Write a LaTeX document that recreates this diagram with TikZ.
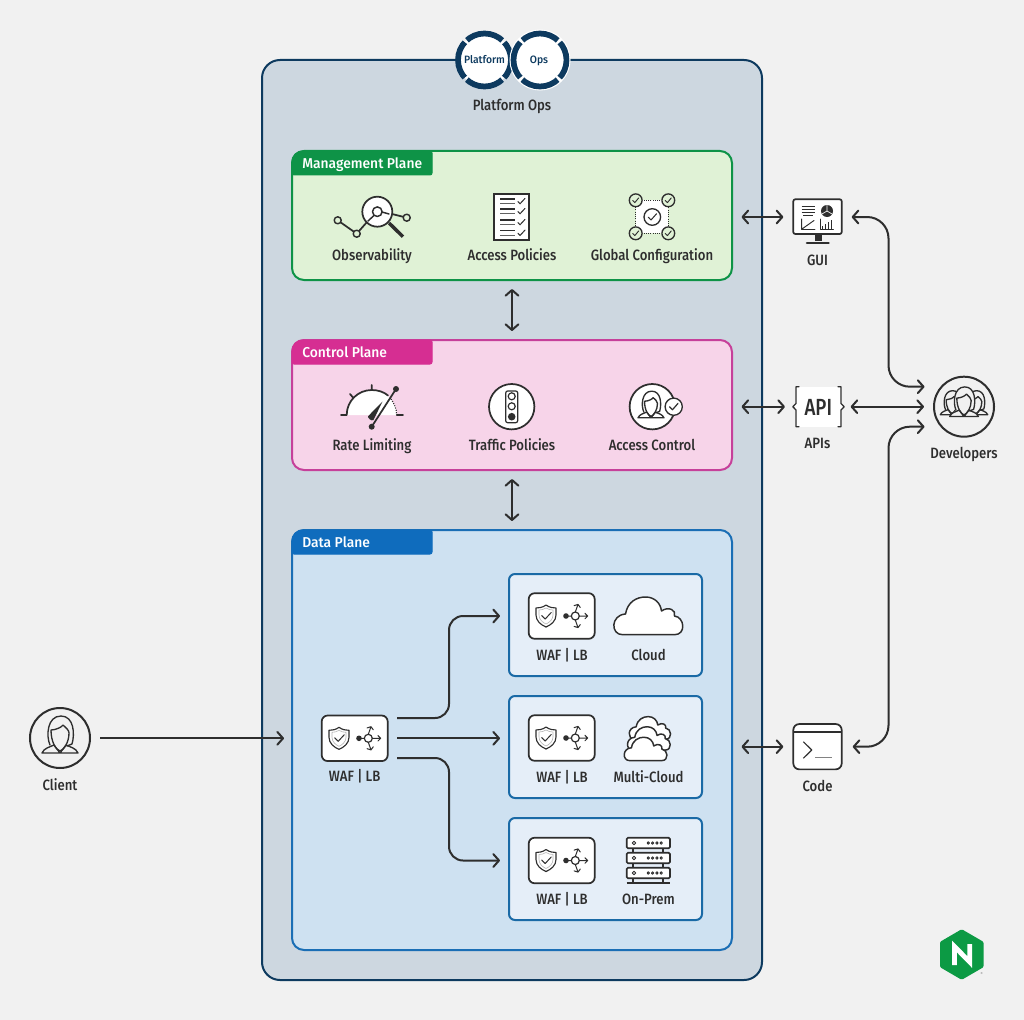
\documentclass[tikz,border=0pt]{standalone}
\usepackage{fontspec}
\setmainfont{Fira Sans}[FakeStretch=0.88,BoldFont={Fira Sans Medium},BoldFeatures={FakeStretch=0.88}]
\newfontfamily\tabf{Fira Sans Medium}[FakeStretch=0.97]
\newfontfamily\apif{Fira Sans Medium}[FakeStretch=0.8]
\usetikzlibrary{arrows.meta}
\definecolor{bgc}{HTML}{F1F1F1}
\definecolor{navy}{HTML}{0D3A5F}
\definecolor{outerf}{HTML}{CDD7E0}
\definecolor{ink}{HTML}{2E2E2E}
\definecolor{mgf}{HTML}{E0F2D6}
\definecolor{mgs}{HTML}{0E9347}
\definecolor{ctf}{HTML}{F7D4E9}
\definecolor{cts}{HTML}{C6409A}
\definecolor{ctt}{HTML}{D62E92}
\definecolor{daf}{HTML}{CEE1F1}
\definecolor{das}{HTML}{1A6EB5}
\definecolor{dat}{HTML}{0F6CBD}
\definecolor{subf}{HTML}{E5EEF8}
\definecolor{subs}{HTML}{1A6AA6}
\definecolor{nginx}{HTML}{0C9A44}
\tikzset{
  panel/.style={draw,rectangle,rounded corners=9pt,line width=1.5pt,minimum width=330pt,inner sep=0pt},
  subpanel/.style={draw=subs,fill=subf,rectangle,rounded corners=4.5pt,line width=1.5pt,minimum width=144.75pt,minimum height=76.5pt,inner sep=0pt},
  holder/.style={rectangle,inner sep=0pt,outer sep=0pt},
  lbl/.style={text=ink,font=\fontsize{11.2}{12}\selectfont\bfseries,inner sep=0pt,text height=10pt,text depth=1.6pt},
  tabl/.style={text=white,font=\fontsize{10.7}{12}\selectfont\tabf,inner sep=0pt,anchor=west,text height=9.8pt,text depth=1.6pt},
  badgetxt/.style={text=navy,font=\fontsize{8}{10}\selectfont\tabf,inner sep=0pt,text height=7pt,text depth=1.5pt},
  conn/.style={draw=ink,line width=1.5pt},
  bi/.style={conn,{Straight Barb[length=4.2pt,width=9.5pt,round]}-{Straight Barb[length=4.2pt,width=9.5pt,round]}},
  uni/.style={conn,-{Straight Barb[length=4.2pt,width=9.5pt,round]}},
  ico/.style={draw=ink,line width=1.3pt,line join=round,line cap=round},
  thin ico/.style={draw=ink,line width=.75pt,line join=round,line cap=round},
  pics/person/.style={code={
    \fill[#1] (-10,7) .. controls (-14,-2) and (-13,-22) .. (1,-22) .. controls (14,-22) and (15,-4) .. (12,6) -- (18,15) -- (-18,15) -- cycle;
    \draw[ico,line width=1pt] (-10,7) .. controls (-14,-2) and (-13,-22) .. (1,-22) .. controls (14,-22) and (15,-4) .. (12,6) -- (7,8);
    \draw[ico,line width=1pt] (-9,-8) .. controls (-4,-8) and (2,-11) .. (3,-13) .. controls (6,-10) and (9,-8) .. (9,-5) .. controls (9,4) and (4,12) .. (0,13) .. controls (-4,12) and (-9,4) .. (-9,-8);
    \draw[ico,line width=1pt] (-6,7) .. controls (-10,9) and (-16,10) .. (-18,15) -- (18,15) .. controls (16,10) and (10,9) .. (6,7) (-6,7) -- (0,15) -- (6,7);
  }},
  pics/waflb/.style={code={
    \draw[ico,fill=white,rounded corners=4.5pt] (-33,-22.8) rectangle (33,22.8);
    \draw[ico,line width=.85pt] (-15.7,-11) .. controls (-19,-8.5) and (-22.7,-8) .. (-25.7,-8) -- (-25.7,-1) .. controls (-25.7,5) and (-20.7,9) .. (-15.7,11) .. controls (-10.7,9) and (-5.7,5) .. (-5.7,-1) -- (-5.7,-8) .. controls (-8.7,-8) and (-12.4,-8.5) .. (-15.7,-11) -- cycle;
    \draw[thin ico,draw=ink!35,line width=.45pt] (-15.7,-8) .. controls (-18,-6.5) and (-20.5,-6) .. (-22.7,-6) -- (-22.7,-1) .. controls (-22.7,3.5) and (-19,6.5) .. (-15.7,8) .. controls (-12.4,6.5) and (-8.7,3.5) .. (-8.7,-1) -- (-8.7,-6) .. controls (-10.9,-6) and (-13.4,-6.5) .. (-15.7,-8) -- cycle;
    \draw[thin ico,line width=.75pt] (-20,-.5)--(-16.5,3)--(-10.5,-3.5);
    \fill[ink] (4.3,0) circle (2.8);
    \draw[thin ico] (4.3,0) -- (9.6,0) (17.6,0) -- (26,0) (23.2,-2.8) -- (26,0) -- (23.2,2.8);
    \draw[thin ico] (13.6,-4) -- (16.3,-11.6) (12.4,-10.4) -- (16.3,-11.6) -- (18.6,-8.5);
    \draw[thin ico] (13.6,4) -- (16.3,11.6) (12.4,10.4) -- (16.3,11.6) -- (18.6,8.5);
    \draw[thin ico,line width=.9pt] (13.6,0) circle (4);
  }},
  pics/cloud/.style={code={
    \draw[ico,line width=1.1pt,fill=#1] (-26,18.7) .. controls (-38,18.7) and (-38,-1) .. (-23,-2) .. controls (-21,-14) and (-12,-19) .. (-3,-19) .. controls (6,-19) and (12,-13) .. (13,-5) .. controls (20,-10) and (28,-6) .. (26,0) .. controls (36,1) and (38,18.7) .. (26,18.7) -- cycle;
  }},
}
\begin{document}
\begin{tikzpicture}[x=0.75pt,y=-0.75pt]
\useasboundingbox (0,0) rectangle (1024,1020);
\fill[bgc] (0,0) rectangle (1024,1020);

% outer frame
\node[draw=navy,fill=outerf,rectangle,rounded corners=13.5pt,line width=1.5pt,minimum width=375pt,minimum height=690pt,inner sep=0pt] (ops) at (512,520) {};

% platform ops badge
\node[circle,fill=white,minimum size=40pt,inner sep=0pt] (plat) at (484.5,60) {};
\node[circle,fill=white,minimum size=40pt,inner sep=0pt] (opsc) at (540,60) {};
\draw[navy,line width=4.3pt,dash pattern=on 29pt off 2.2pt,dash phase=14.5pt] (plat.center) circle (26.5);
\draw[white,line width=6pt] (opsc.center) circle (26.5);
\draw[navy,line width=4.3pt,dash pattern=on 29pt off 2.2pt,dash phase=14.5pt] (opsc.center) circle (26.5);
\node[badgetxt] (platt) at (484.5,60) {Platform};
\node[badgetxt] (opst) at (539,60) {Ops};
\node[lbl] (opsl) at (512,105) {Platform Ops};

% planes
\node[panel,draw=mgs,fill=mgf,minimum height=96.75pt] (mgmt) at (512,215.5) {};
\node[panel,draw=cts,fill=ctf,minimum height=97.5pt] (ctrl) at (512,405) {};
\node[panel,draw=das,fill=daf,minimum height=315pt] (data) at (512,740) {};
\filldraw[mgs,line width=.75pt,rounded corners=8pt] (292,175) -- (292,151) [rounded corners=1.5pt] -- (432,151) -- (432,175) -- cycle;
\filldraw[ctt,line width=.75pt,rounded corners=8pt] (292,364) -- (292,340) [rounded corners=1.5pt] -- (432,340) -- (432,364) -- cycle;
\filldraw[dat,line width=.75pt,rounded corners=8pt] (292,554) -- (292,530) [rounded corners=1.5pt] -- (432,530) -- (432,554) -- cycle;
\node[tabl] (mgmtt) at (302,163) {Management Plane};
\node[tabl] (ctrlt) at (302,352) {Control Plane};
\node[tabl] (datat) at (302,542) {Data Plane};

% observability icon
\draw[ico] (337.7,220.3) -- (356.7,233.7) -- (367,222) (392,214) -- (406.7,217.7);
\draw[ico,fill=mgf,line width=1.1pt] (337.7,220.3) circle (3.5) (356.7,233.7) circle (3.5) (406.7,217.7) circle (3.5);
\draw[ico,line width=2.6pt,line cap=butt] (389,223) -- (403,236.7);
\draw[ico,fill=white] (377.3,211.7) circle (15);
\draw[ico,line width=1.1pt] (377.3,211.7) circle (4.8) (374,215.5) -- (368,221) (382,212) -- (389,214);
\node[lbl] (obs) at (372,255) {Observability};

% access policies icon
\draw[ico,fill=white,line join=miter] (494.3,194.3) rectangle (529.3,240);
\foreach \y in {199,209,220,230.7} {
  \draw[thin ico,line cap=butt,line width=.9pt] (500,\y) -- (515,\y);
  \draw[thin ico,line cap=butt,line width=.9pt,draw=ink!75] (500,\y+4.4) -- (515,\y+4.4);
  \draw[thin ico] (518,\y+2.6) -- (520,\y+4.8) -- (525,\y-.6);
}
\node[lbl] (pol) at (512,255) {Access Policies};

% global configuration icon
\fill[white] (635.7,200.3) rectangle (668.3,233.3);
\draw[ink,line width=.7pt,densely dotted] (635.7,200.3) rectangle (668.3,233.3);
\draw[ico,line width=1pt] (652.3,217) circle (8.3);
\draw[thin ico] (648.3,217.2) -- (651,220) -- (656.5,213.8);
\foreach \cx/\cy in {635.7/200.3,668.3/200.3,635.7/233.3,668.3/233.3} {
  \draw[ico,fill=mgf,line width=1pt] (\cx,\cy) circle (6.4);
  \draw[thin ico,line width=.7pt] (\cx-3,\cy+.2) -- (\cx-.9,\cy+2.3) -- (\cx+3,\cy-2.4);
}
\node[lbl] (glob) at (652,255) {Global Configuration};

% rate limiting icon
\fill[white] (346.7,415) .. controls (346.7,401) and (358,390) .. (371.7,390) .. controls (385.5,390) and (396.7,401) .. (396.7,415) -- cycle;
\draw[ico] (341,415) -- (346.7,415) .. controls (346.7,401) and (358,390) .. (371.7,390) .. controls (378,390) and (384,392) .. (388,395.5);
\draw[ink,line width=.8pt,densely dotted] (391,399) .. controls (394,403) and (396.7,409) .. (396.7,415);
\draw[ico] (396.7,415) -- (403,415) (371.7,390) -- (371.7,385) (350,394) -- (353,397.5);
\draw[ico] (371.7,426.7) -- (396,389);
\fill[ink] (371.7,426.7) circle (3) (396,389) circle (3);
\fill[ink] (382.5,401.5) -- (368,416.3) .. controls (367.5,418) and (371.5,421.5) .. (373.5,420) -- cycle;
\node[lbl] (rate) at (372,445) {Rate Limiting};

% traffic policies icon
\draw[ico,fill=white] (511.7,406.7) circle (22.7);
\draw[thin ico,rounded corners=1.5pt,line width=.9pt] (505.7,391) rectangle (517.7,422.7);
\draw[thin ico,line width=.9pt] (511.7,396.3) circle (3.5) (511.7,406.3) circle (3.5);
\fill[ink] (511.7,416.7) circle (3.8);
\node[lbl] (traf) at (512,445) {Traffic Policies};

% access control icon
\draw[ico,fill=white] (652.3,406.7) circle (22.7);
\pic[scale=.72] at (651,407) {person=white};
\draw[ico,fill=white,line width=1pt] (673.7,406.7) circle (8.6);
\draw[thin ico,line width=.9pt] (669.6,406.8) -- (672.4,409.8) -- (678,403.4);
\node[lbl] (acc) at (652,445) {Access Control};

% data plane
\node[subpanel] (s1) at (605.5,625) {};
\node[subpanel] (s2) at (605.5,747) {};
\node[subpanel] (s3) at (605.5,869) {};

\node[holder,minimum width=49.5pt,minimum height=34.2pt] (waf) at (354.7,738.3) {};
\pic at (waf.center) {waflb};
\node[lbl] (wafl) at (354.7,776) {WAF | LB};

\pic at (561.7,616) {waflb};
\node[lbl] (w1) at (562,654.5) {WAF | LB};
\pic at (561.7,738) {waflb};
\node[lbl] (w2) at (562,776.5) {WAF | LB};
\pic at (561.7,860.5) {waflb};
\node[lbl] (w3) at (562,898.5) {WAF | LB};

\pic at (648.5,616) {cloud=white};
\node[lbl] (cl) at (648.5,654.5) {Cloud};
\pic[scale=.6] at (650,728) {cloud=white};
\pic[scale=.62] at (649,738.5) {cloud=white};
\pic[scale=.62] at (645.7,749) {cloud=white};
\node[lbl] (mc) at (648.5,776.5) {Multi-Cloud};

% on-prem icon
\draw[ico,line cap=butt] (633.3,848) -- (633.3,853) (662.7,848) -- (662.7,853) (633.3,863) -- (633.3,868) (662.7,863) -- (662.7,868) (633.3,878) -- (633.3,883) (662.7,878) -- (662.7,883);
\draw[ico,line cap=butt] (626.7,882.8) -- (670,882.8);
\foreach \y in {843,858,873} {
  \draw[ico,fill=white,rounded corners=1pt] (626.7,\y-5.3) rectangle (670,\y+5.3);
  \draw[thin ico,line width=.7pt] (634,\y) circle (1.7) (648.3,\y) circle (1.2) (652.6,\y) circle (1.2) (656.9,\y) circle (1.2) (661.2,\y) circle (1.2);
}
\node[lbl] (op) at (648.5,898.5) {On-Prem};

% client
\node[circle,draw=ink,line width=1.5pt,minimum size=45pt,inner sep=0pt] (client) at (60,738) {};
\pic at (client.center) {person=bgc};
\node[lbl] (clientl) at (60,785) {Client};

% developers
\node[circle,draw=ink,line width=1.5pt,minimum size=45pt,inner sep=0pt] (dev) at (964,406.7) {};
\pic[scale=.65] at (952,405) {person=bgc};
\pic[scale=.65] at (976,405) {person=bgc};
\pic[scale=.8] at (964,404.5) {person=bgc};
\node[lbl] (devl) at (964,452.5) {Developers};

% GUI
\node[holder,minimum width=36.3pt,minimum height=33pt] (gui) at (817.5,217) {};
\draw[ico,fill=white,rounded corners=1.5pt] (793.3,199.3) rectangle (841.7,234);
\fill[ink] (815,234) rectangle (821.7,241);
\draw[ink,line width=2pt,line cap=round] (807,243) -- (828.5,243);
\draw[thin ico,line width=.8pt,line cap=butt] (801.7,206.7) -- (815,206.7) (801.7,209.6) -- (815,209.6) (801.7,212.5) -- (815,212.5) (803,215.3) -- (813,215.3);
\fill[ink] (827,211) circle (6);
\draw[white,line width=.5pt] (827,211) -- (827,205) (827,211) -- (822,214) (827,211) -- (832,214);
\draw[thin ico,line width=.7pt] (801.7,219) -- (801.7,229.5) -- (815,229.5) (802,229) -- (814,220.5);
\draw[thin ico,line width=.7pt] (820,219) -- (820,229.5) -- (833.5,229.5);
\foreach \bx/\bh in {822.5/4,825.5/6,828.5/8,831.5/10} \draw[ink,line width=1.1pt] (\bx,229.5) -- (\bx,229.5-\bh);
\node[lbl] (guil) at (817.5,260) {GUI};

% API
\node[holder,fill=white,minimum width=35pt,minimum height=30pt] (api) at (818.3,406.7) {};
\draw[ico,line width=1pt] (799,386.7) -- (796,386.7) -- (796,403.5) -- (792.8,406.7) -- (796,410) -- (796,426.7) -- (799,426.7);
\draw[ico,line width=1pt] (838,386.7) -- (841,386.7) -- (841,403.5) -- (844.2,406.7) -- (841,410) -- (841,426.7) -- (838,426.7);
\node[text=ink,font=\fontsize{17.5}{18}\selectfont\apif,inner sep=0pt] (apit) at (818.3,407) {API};
\node[lbl] (apil) at (817.5,442.7) {APIs};

% code
\node[holder,draw=ink,fill=white,line width=1.3pt,rounded corners=4.5pt,minimum width=36.3pt,minimum height=34pt] (code) at (817.5,746.7) {};
\draw[ico,line width=1pt,line cap=butt] (793.3,732) -- (841.7,732);
\draw[thin ico,line width=.9pt,line cap=butt] (803.3,741.7) -- (811.7,750) -- (803.3,758.3);
\draw[ink!60,line width=1.1pt] (815,757.7) -- (831.7,757.7);
\node[lbl] (codel) at (817.5,785.7) {Code};

% connectors: planes
\draw[bi,shorten <=8.5*.75pt,shorten >=10*.75pt] (mgmt.east |- gui) -- (gui.west);
\draw[bi,shorten <=8.5*.75pt,shorten >=10*.75pt] (ctrl.east |- api) -- (api.west);
\draw[bi,shorten <=8.5*.75pt,shorten >=10*.75pt] (data.east |- code) -- (code.west);
\draw[bi,shorten <=8*.75pt,shorten >=8*.75pt] (mgmt.south) -- (ctrl.north);
\draw[bi,shorten <=8*.75pt,shorten >=8*.75pt] (ctrl.south) -- (data.north);

% connectors: developers
\coordinate (busd) at (888.5,500);
\coordinate (devA) at (924.5,386.7);
\coordinate (devC) at (924.5,426.7);
\draw[bi,rounded corners=16pt,shorten <=10*.75pt] (gui.east) -- (gui.east -| busd) -- (busd |- devA) -- (devA);
\draw[bi,shorten <=9*.75pt,shorten >=9*.75pt] (api.east |- dev) -- (dev.west);
\draw[bi,rounded corners=16pt,shorten <=11*.75pt] (code.east) -- (code.east -| busd) -- (busd |- devC) -- (devC);

% connectors: client and WAF
\coordinate (tipC) at (284,738.3);
\draw[uni,shorten <=9*.75pt] (client.east |- tipC) -- (tipC);
\coordinate (bus) at (449,738.3);
\coordinate (outA) at (397,718);
\coordinate (outB) at (397,738.3);
\coordinate (outC) at (397,758);
\coordinate (tipA) at (500,616);
\coordinate (tipB) at (500,738.3);
\coordinate (tipD) at (500,860.5);
\draw[uni,rounded corners=10.5pt] (outA) -- (outA -| bus) -- (bus |- tipA) -- (tipA);
\draw[uni] (outB) -- (tipB);
\draw[uni,rounded corners=10.5pt] (outC) -- (outC -| bus) -- (bus |- tipD) -- (tipD);

% logo
\node[holder] (logo) at (961.7,954.3) {};
\fill[nginx,draw=nginx,line width=3pt,line join=round] (961.7,931.5) -- (981.5,943) -- (981.5,966) -- (961.7,977.5) -- (942,966) -- (942,943) -- cycle;
\draw[white,line width=3.6pt,line join=miter,line cap=butt] (954.5,965) -- (954.5,946.5) -- (969.7,962) -- (969.7,944);
\node[text=ink!60,font=\fontsize{3}{3}\selectfont,inner sep=0pt] (reg) at (981.7,974.3) {®};
\end{tikzpicture}
\end{document}
